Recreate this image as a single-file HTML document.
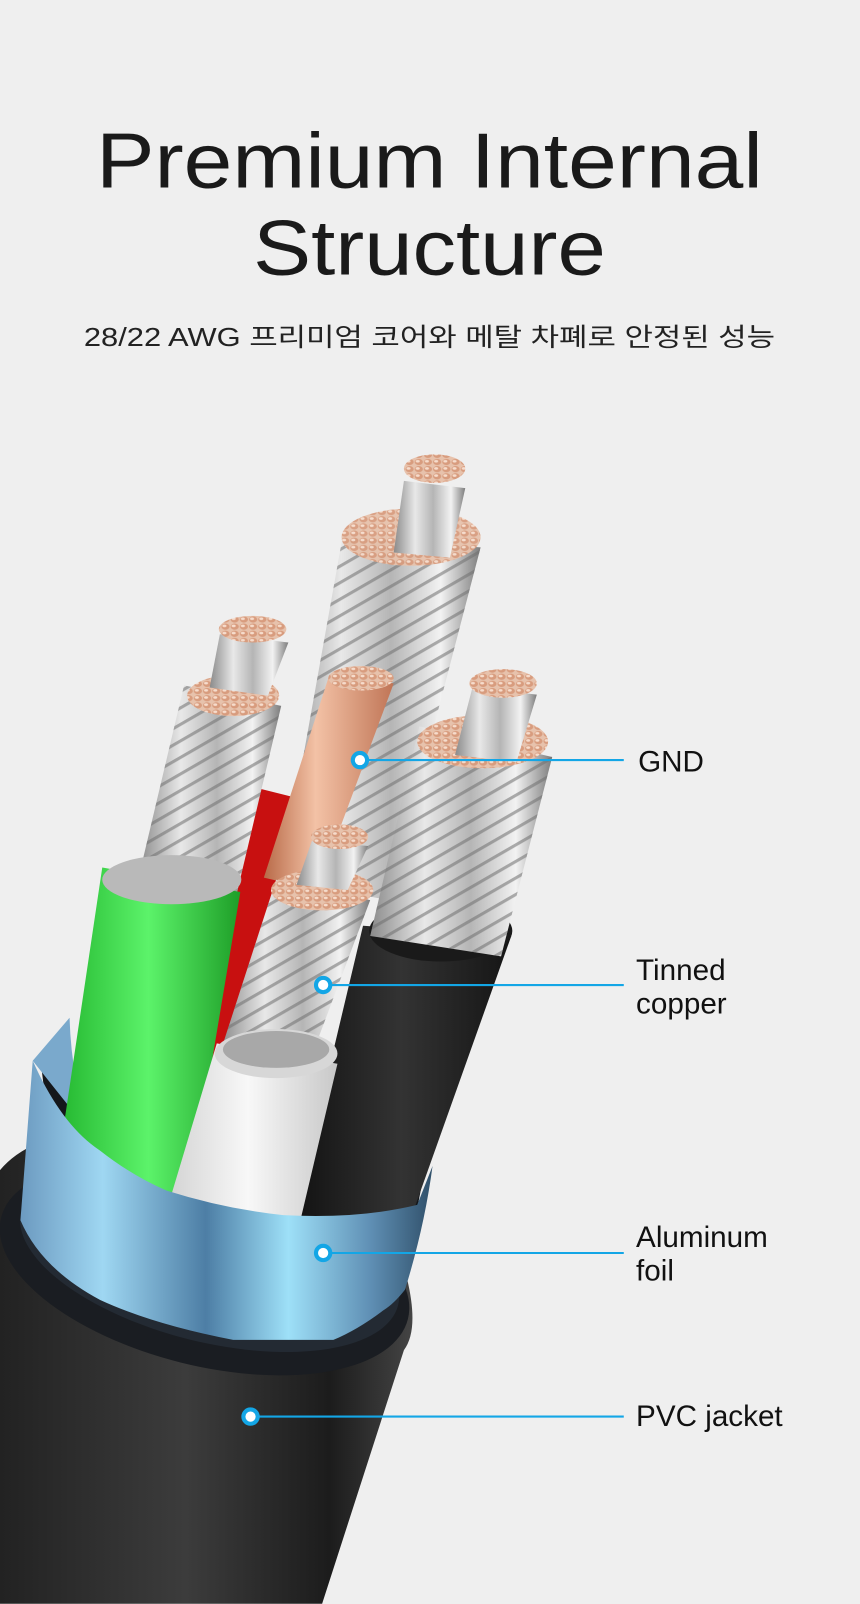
<!DOCTYPE html>
<html><head><meta charset="utf-8"><style>
html,body{margin:0;padding:0;background:#efefef;}
svg{display:block}
</style></head><body>
<svg width="860" height="1604" viewBox="0 0 841 1568" xmlns="http://www.w3.org/2000/svg">
<defs>
<linearGradient id="metal" x1="0" y1="0" x2="1" y2="0">
<stop offset="0" stop-color="#8a8a8a"/><stop offset="0.3" stop-color="#e8e8e8"/><stop offset="0.55" stop-color="#b5b5b5"/><stop offset="0.8" stop-color="#f2f2f2"/><stop offset="1" stop-color="#7d7d7d"/>
</linearGradient>
<pattern id="twist" width="14" height="14" patternUnits="userSpaceOnUse" patternTransform="rotate(-30)">
<rect width="14" height="14" fill="none"/><rect width="14" height="3" fill="#6f6f6f" opacity="0.55"/>
</pattern>
<pattern id="dots" width="9" height="7" patternUnits="userSpaceOnUse">
<rect width="9" height="7" fill="#e7c2ac"/><ellipse cx="4.5" cy="3.5" rx="4" ry="3" fill="#d89c7e"/><ellipse cx="3.5" cy="2.8" rx="2" ry="1.3" fill="#f6dccc"/>
</pattern>
<linearGradient id="copper" x1="0" y1="0" x2="1" y2="0">
<stop offset="0" stop-color="#b86a48"/><stop offset="0.4" stop-color="#f3c2a6"/><stop offset="1" stop-color="#c07556"/>
</linearGradient>
<linearGradient id="jacket" x1="0" y1="0" x2="1" y2="0">
<stop offset="0" stop-color="#222"/><stop offset="0.45" stop-color="#3c3c3c"/><stop offset="0.8" stop-color="#1c1c1c"/><stop offset="1" stop-color="#444"/>
</linearGradient>
<linearGradient id="foil" x1="0" y1="0" x2="1" y2="0">
<stop offset="0" stop-color="#6c9ac0"/><stop offset="0.2" stop-color="#9fd7f2"/><stop offset="0.45" stop-color="#4d7ea5"/><stop offset="0.65" stop-color="#9ee0f8"/><stop offset="0.85" stop-color="#5f8fb4"/><stop offset="1" stop-color="#30506a"/>
</linearGradient>
<linearGradient id="green" x1="0" y1="0" x2="1" y2="0">
<stop offset="0" stop-color="#22b52e"/><stop offset="0.5" stop-color="#5cf36a"/><stop offset="1" stop-color="#1e9e28"/>
</linearGradient>
<linearGradient id="white" x1="0" y1="0" x2="1" y2="0">
<stop offset="0" stop-color="#cfcfcf"/><stop offset="0.5" stop-color="#f8f8f8"/><stop offset="1" stop-color="#c8c8c8"/>
</linearGradient>
<linearGradient id="black" x1="0" y1="0" x2="1" y2="0">
<stop offset="0" stop-color="#111"/><stop offset="0.5" stop-color="#333"/><stop offset="1" stop-color="#151515"/>
</linearGradient>
</defs>

<!-- jacket body -->
<path d="M0,1144 Q20,1120 60,1110 L398,1250 Q410,1300 395,1320 L315,1568 L0,1568 Z" fill="url(#jacket)"/>
<ellipse cx="200" cy="1240" rx="205" ry="95" transform="rotate(14 200 1240)" fill="#1a1d22"/>
<ellipse cx="205" cy="1230" rx="190" ry="82" transform="rotate(14 205 1230)" fill="#232a33"/>
<!-- dark interior inside band -->
<path d="M40,1040 L415,1145 L395,1250 L60,1200 Z" fill="#14171b"/>
<!-- foil back sliver -->
<path d="M32,1037 L68,995 Q70,1060 90,1110 Z" fill="#7aa9cc"/>
<!-- red behind -->
<polygon points="250,770 330,790 250,1180 160,1170" fill="#c81010"/>
<!-- black tube right -->
<polygon points="355,905 500,915 405,1182 285,1200" fill="url(#black)"/>
<ellipse cx="431" cy="910" rx="70" ry="30" fill="#1a1a1a"/>
<!-- big center strand -->
<polygon points="335,525 470,535 380,880 275,860" fill="url(#metal)"/>
<polygon points="335,525 470,535 380,880 275,860" fill="url(#twist)"/>
<ellipse cx="402" cy="525" rx="68" ry="28" fill="url(#dots)" opacity="0.95"/>
<polygon points="395,470 455,477 440,545 385,540" fill="url(#metal)"/>
<ellipse cx="425" cy="458" rx="30" ry="14" fill="url(#dots)"/>
<!-- right strand -->
<polygon points="410,710 540,740 490,935 362,915" fill="url(#metal)"/>
<polygon points="410,710 540,740 490,935 362,915" fill="url(#twist)"/>
<ellipse cx="472" cy="725" rx="64" ry="26" fill="url(#dots)"/>
<polygon points="462,672 525,679 505,745 445,738" fill="url(#metal)"/>
<ellipse cx="492" cy="668" rx="33" ry="14" fill="url(#dots)"/>
<!-- left strand -->
<polygon points="180,670 275,690 230,880 135,860" fill="url(#metal)"/>
<polygon points="180,670 275,690 230,880 135,860" fill="url(#twist)"/>
<ellipse cx="228" cy="680" rx="45" ry="20" fill="url(#dots)"/>
<polygon points="215,620 282,628 262,680 205,672" fill="url(#metal)"/>
<ellipse cx="247" cy="615" rx="33" ry="13" fill="url(#dots)"/>
<!-- green tube -->
<polygon points="100,848 235,872 185,1170 55,1150" fill="url(#green)"/>
<ellipse cx="168" cy="860" rx="68" ry="24" fill="#b9b9b9"/>
<!-- copper -->
<polygon points="322,660 385,668 310,870 258,858" fill="url(#copper)"/>
<ellipse cx="353" cy="663" rx="32" ry="12" fill="url(#dots)"/>
<!-- front strand -->
<polygon points="270,860 362,880 300,1045 215,1030" fill="url(#metal)"/>
<polygon points="270,860 362,880 300,1045 215,1030" fill="url(#twist)"/>
<ellipse cx="315" cy="870" rx="50" ry="20" fill="url(#dots)"/>
<polygon points="305,822 360,827 340,870 290,865" fill="url(#metal)"/>
<ellipse cx="332" cy="818" rx="28" ry="12" fill="url(#dots)"/>
<!-- white tube -->
<polygon points="212,1020 330,1040 285,1230 155,1210" fill="url(#white)"/>
<ellipse cx="270" cy="1030" rx="60" ry="24" fill="#d7d7d7"/>
<ellipse cx="270" cy="1026" rx="52" ry="18" fill="#a8a8a8"/>
<!-- foil front band -->
<path d="M32,1037 Q60,1100 98,1125 Q130,1150 163,1164 Q220,1182 277,1188 Q350,1192 408,1178 L423,1140 Q415,1200 396,1261 Q385,1275 375,1281 Q350,1300 326,1310 L228,1310 Q150,1295 98,1271 Q40,1240 20,1193 Z" fill="url(#foil)"/>

<!-- callouts -->
<g stroke="#13a6e6" stroke-width="2" fill="none">
<line x1="352" y1="743" x2="610" y2="743"/>
<line x1="316" y1="963" x2="610" y2="963"/>
<line x1="316" y1="1225" x2="610" y2="1225"/>
<line x1="245" y1="1385" x2="610" y2="1385"/>
</g>
<g fill="#fff" stroke="#13a6e6" stroke-width="4">
<circle cx="352" cy="743" r="7"/><circle cx="316" cy="963" r="7"/><circle cx="316" cy="1225" r="7"/><circle cx="245" cy="1385" r="7"/>
</g>
<g font-family="Liberation Sans, sans-serif" fill="#111" font-size="29">
<text x="624" y="754">GND</text>
<text x="622" y="958">Tinned</text>
<text x="622" y="991">copper</text>
<text x="622" y="1219">Aluminum</text>
<text x="622" y="1252">foil</text>
<text x="622" y="1394">PVC jacket</text>
</g>
<g font-family="Liberation Sans, sans-serif" fill="#1a1a1a" text-anchor="middle">
<text x="420" y="183" font-size="76" textLength="652" lengthAdjust="spacingAndGlyphs">Premium Internal</text>
<text x="420" y="268" font-size="76" textLength="345" lengthAdjust="spacingAndGlyphs">Structure</text>
<text x="420" y="338" font-size="25" font-family="Liberation Sans, Noto Sans CJK KR, sans-serif" fill="#222" textLength="676" lengthAdjust="spacingAndGlyphs">28/22 AWG 프리미엄 코어와 메탈 차폐로 안정된 성능</text>
</g>
</svg>
</body></html>
